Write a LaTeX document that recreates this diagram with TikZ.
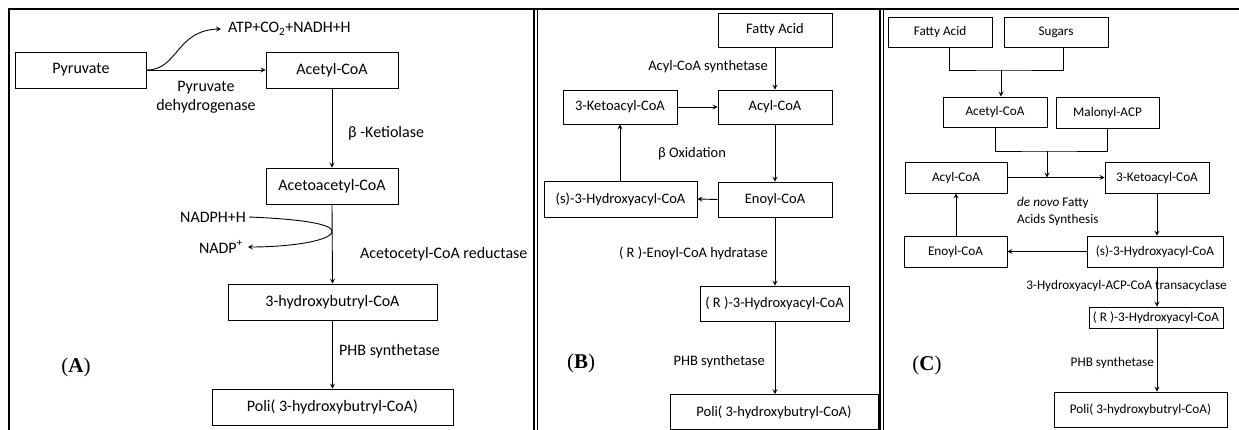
\documentclass[tikz,border=0pt]{standalone}
\usepackage{fontspec}
\setmainfont{Carlito}
\newfontfamily\tnr{Liberation Serif}
\usetikzlibrary{arrows.meta,calc}
\begin{document}
\begin{tikzpicture}[x=1pt,y=-1pt,
  fa/.style={font=\fontsize{16}{19.5}\selectfont},
  fb/.style={font=\fontsize{14.5}{17.5}\selectfont},
  fc/.style={font=\fontsize{13.2}{16.5}\selectfont},
  bxA/.style={draw, line width=0.9pt, inner sep=0pt, fa, minimum height=36pt},
  bxB/.style={draw, line width=0.9pt, inner sep=0pt, fb, minimum height=35pt},
  bxC/.style={draw, line width=0.9pt, inner sep=0pt, fc, minimum height=31pt},
  arr/.style={line width=0.9pt, -{Stealth[length=5pt,width=5pt,inset=2pt]}},
  ln/.style={line width=0.9pt},
  frame/.style={line width=1.5pt},
  lbl/.style={inner sep=0pt},
  tag/.style={inner sep=0pt, font=\tnr\fontsize{21}{24}\selectfont}]
\useasboundingbox (0,0) rectangle (1239,430);
% frames
\draw[frame] (9,432) -- (9,9) -- (1241,9);
\draw[frame] (534,432) -- (534,9);
\draw[frame] (537.5,432) -- (537.5,9);
\draw[frame] (880,432) -- (880,9);
\draw[frame] (883.5,432) -- (883.5,9);

% ---------------- Panel A ----------------
\node[bxA, minimum width=131pt] (pyr) at (81,70) {Pyruvate};
\node[bxA, minimum width=132pt] (acA) at (332,70) {Acetyl-CoA};
\node[bxA, minimum width=132pt] (aaA) at (332,186) {Acetoacetyl-CoA};
\node[bxA, minimum width=209pt] (hbA) at (332.5,302) {3-hydroxybutryl-CoA};
\node[bxA, minimum width=241pt] (poliA) at (332.5,407) {Poli( 3-hydroxybutryl-CoA)};
\node[lbl, fa, anchor=west, inner xsep=7pt] (atp) at (221,29) {ATP+CO\textsubscript{2}+NADH+H};
\node[lbl, fa, align=center] (pdh) at (206,97) {Pyruvate\\dehydrogenase};
\node[lbl, fa, anchor=west] (ket) at (348,133) {β -Ketiolase};
\node[lbl, fa, anchor=east] (nadph) at (246,217) {NADPH+H};
\node[lbl, fa, anchor=east] (nadp) at (243,247) {NADP\textsuperscript{+}};
\node[lbl, fa, anchor=west] (red) at (360,254) {Acetocetyl-CoA reductase};
\node[lbl, fa, anchor=west] (phbA) at (339,351) {PHB synthetase};
\node[tag] (tagA) at (76,367) {(\textbf{A})};
\coordinate (tp) at (332,232);

\draw[arr] (pyr.east) -- (acA.west);
\draw[arr] (pyr.east) .. controls (178,70) and (176,30) .. (atp.west);
\draw[arr] (acA.south) -- (aaA.north);
\draw[arr] (aaA.south) -- (hbA.north);
\draw[arr] ([xshift=3pt]nadph.east) .. controls (300,219) and (334,224) .. (tp)
   .. controls (330,241) and (290,247) .. ([xshift=5pt]nadp.east);
\draw[arr] (hbA.south) -- (poliA.north);

% ---------------- Panel B ----------------
\node[bxB, minimum width=114pt, minimum height=34pt] (faB) at (775,30) {Fatty Acid};
\node[bxB, minimum width=114pt, minimum height=34pt] (acylB) at (775,107) {Acyl-CoA};
\node[bxB, minimum width=114pt, minimum height=34pt] (ketoB) at (620,107) {3-Ketoacyl-CoA};
\node[bxB, minimum width=114pt] (enoB) at (775,199.5) {Enoyl-CoA};
\node[bxB, minimum width=153pt, minimum height=36pt] (shB) at (620.5,199) {(s)-3-Hydroxyacyl-CoA};
\node[bxB, minimum width=149pt] (rB) at (774.5,303.5) {( R )-3-Hydroxyacyl-CoA};
\node[bxB, minimum width=208pt] (poliB) at (774,412) {Poli( 3-hydroxybutryl-CoA)};
\node[lbl, fb, anchor=east] (acs) at (768,67) {Acyl-CoA synthetase};
\node[lbl, fb] (box) at (692,154) {β Oxidation};
\node[lbl, fb, anchor=east] (hyd) at (768,253) {( R )-Enoyl-CoA hydratase};
\node[lbl, fb, anchor=east] (phbB) at (765,362) {PHB synthetase};
\node[tag] (tagB) at (581,363) {(\textbf{B})};

\draw[arr] (faB.south) -- (acylB.north);
\draw[arr] (ketoB.east) -- (acylB.west);
\draw[arr] (acylB.south) -- (enoB.north);
\draw[arr] (enoB.west) -- (shB.east);
\draw[arr] (shB.north -| ketoB.south) -- (ketoB.south);
\draw[arr] (enoB.south) -- (rB.north -| enoB.south);
\draw[arr] (rB.south -| enoB.south) -- (poliB.north -| enoB.south);

% ---------------- Panel C ----------------
\node[bxC, minimum width=104pt, minimum height=30pt] (faC) at (940,32) {Fatty Acid};
\node[bxC, minimum width=104pt, minimum height=30pt] (sugC) at (1056,32) {Sugars};
\node[bxC, minimum width=104pt, minimum height=30pt] (acC) at (995,112) {Acetyl-CoA};
\node[bxC, minimum width=103pt] (malC) at (1107.5,112.5) {Malonyl-ACP};
\node[bxC, minimum width=102pt] (acylC) at (956,177.5) {Acyl-CoA};
\node[bxC, minimum width=104pt] (ketoC) at (1157,177.5) {3-Ketoacyl-CoA};
\node[bxC, minimum width=103pt] (enoC) at (955.5,251.5) {Enoyl-CoA};
\node[bxC, minimum width=136pt] (shC) at (1155,251.5) {(s)-3-Hydroxyacyl-CoA};
\node[bxC, minimum width=134pt, minimum height=21pt] (rC) at (1156,317.5) {( R )-3-Hydroxyacyl-CoA};
\node[bxC, minimum width=173pt, minimum height=35pt] (poliC) at (1140.5,409.5) {Poli( 3-hydroxybutryl-CoA)};
\node[lbl, fc, anchor=west, align=left] (dnv) at (1017,211.5) {\textit{de novo} Fatty\\Acids Synthesis};
\node[lbl, fc] (tac) at (1126.5,286) {3-Hydroxyacyl-ACP-CoA transacyclase};
\node[lbl, fc, anchor=east] (phbC) at (1154,363) {PHB synthetase};
\node[tag] (tagC) at (927,365) {(\textbf{C})};
\coordinate (j1) at (1001,70);
\coordinate (j2) at (1047,151);

\draw[ln] ([xshift=9pt]faC.south) |- (j1) -| ([xshift=7pt]sugC.south);
\draw[arr] (j1) -- (j1 |- acC.north);
\draw[ln] (acC.south) |- (j2) -| (malC.south);
\draw[arr] (j2) -- (j2 |- acylC.east);
\draw[arr] (acylC.east) -- (ketoC.west);
\draw[arr] (ketoC.south) -- (ketoC.south |- shC.north);
\draw[arr] (shC.west) -- (enoC.east);
\draw[arr] (enoC.north -| acylC.south) -- (acylC.south);
\draw[arr] (ketoC.south |- shC.south) -- (ketoC.south |- rC.north);
\draw[arr] (ketoC.south |- rC.south) -- (ketoC.south |- poliC.north);
\end{tikzpicture}
\end{document}
